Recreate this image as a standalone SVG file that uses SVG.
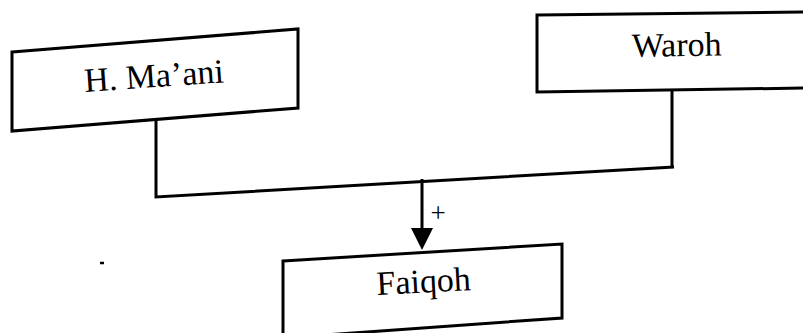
<svg xmlns="http://www.w3.org/2000/svg" width="803" height="333" viewBox="0 0 803 333">
<style>
.box{fill:#fff;stroke:#000;stroke-width:3;stroke-linejoin:miter}
.lbl{font-family:"Liberation Serif","Times New Roman",serif;font-size:34px;fill:#000}
.con{fill:none;stroke:#000;stroke-width:3}
</style>
<rect width="803" height="333" fill="#fff"/>
<g id="node-hmaani">
<polygon class="box" points="12,52 298,29 298,108 12,131"/>
<text class="lbl" x="85" y="92" transform="rotate(-4 85 92)">H. Ma’ani</text>
</g>
<g id="node-waroh">
<polygon class="box" points="537,15 806,12 806,88 537,92"/>
<text class="lbl" x="632" y="57" transform="rotate(-1 632 57)">Waroh</text>
</g>
<g id="node-faiqoh">
<polygon class="box" points="283,261 562,244 562,318 283,338"/>
<text class="lbl" x="377" y="295" transform="rotate(-3 377 295)">Faiqoh</text>
</g>
<g id="connectors">
<polyline class="con" points="156,121 156,197 674,167 672,167 672,91"/>
<line class="con" x1="422" y1="179" x2="422" y2="232"/>
<polygon points="411,228 433,228 422,250" fill="#000"/>
<text x="438" y="222" fill="#000" font-family="Liberation Serif,serif" font-size="27px" text-anchor="middle">+</text>
<line x1="100" y1="263" x2="104" y2="263" stroke="#000" stroke-width="2.5"/>
</g>
</svg>
